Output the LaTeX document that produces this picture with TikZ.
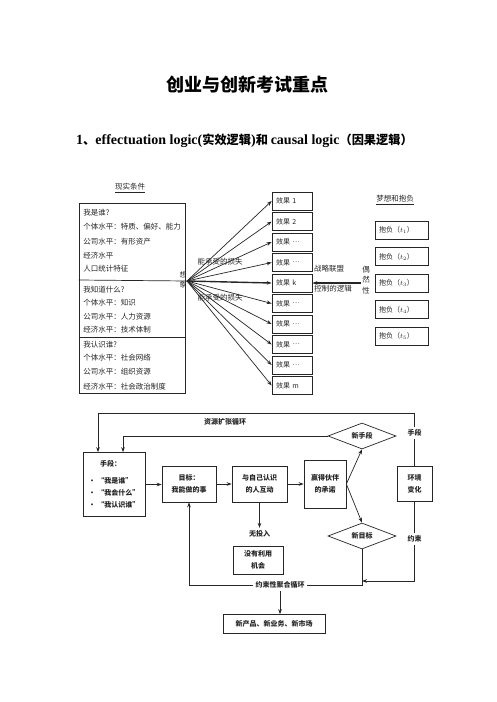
\documentclass[tikz,border=0pt]{standalone}
\usepackage{fontspec}
\setmainfont{Noto Sans CJK SC}
\newfontfamily\latin{Liberation Serif}
\usetikzlibrary{arrows.meta,shapes.geometric}
\newcommand{\cdotsx}{\raisebox{2.2pt}{…}}
\begin{document}
\begin{tikzpicture}[x=1pt,y=-1pt,
  every node/.style={inner sep=0pt, text=black!85},
  line width=0.7pt, draw=black!85,
  t7/.style={font=\fontsize{7.5}{9}\selectfont},
  effbox/.style={draw, text width=32pt, inner xsep=4pt, minimum height=18pt, align=left, font=\fontsize{7}{8}\selectfont},
  aspbox/.style={draw, text width=45pt, inner xsep=4pt, minimum height=18pt, align=left, font=\fontsize{7}{8}\selectfont},
  arr/.style={-{Stealth[length=5pt,width=3.6pt]}},
  fbox/.style={draw, align=center, font=\bfseries\fontsize{7}{12}\selectfont},
  lab/.style={inner sep=2.5pt, font=\bfseries\fontsize{7}{9}\selectfont},
  dia/.style={draw, diamond, aspect=2.6, minimum width=68pt, minimum height=26pt, font=\bfseries\fontsize{7}{9}\selectfont}
]
\fill[white] (0,0) rectangle (496,702);
\useasboundingbox (0,0) rectangle (496,702);

% title
\node[font=\bfseries\fontsize{18}{20}\selectfont, text=black] (title) at (247,85) {创业与创新考试重点};
\node[font=\bfseries\fontsize{12.2}{14}\selectfont, text=black] (sub) at (244.5,141)
  {{\latin\fontsize{14}{16}\selectfont 1}、{\latin\fontsize{14}{16}\selectfont effectuation logic(}实效逻辑{\latin\fontsize{14}{16}\selectfont )}和 {\latin\fontsize{14}{16}\selectfont causal logic}（因果逻辑）};

% ---------- top diagram ----------
\node[t7] (hgiven) at (130,188) {\underline{现实条件}};
\node[draw, minimum width=106pt, minimum height=190pt] (given) at (132,298) {};
\coordinate (f) at (187,281);
\draw (given.west |- 0,280) -- (f);
\draw (given.west |- 0,337) -- (given.east |- 0,337);

\node[t7, anchor=west] (g1) at (83,213) {我是谁?};
\node[t7, anchor=west] (g2) at (83,227) {个体水平：特质、偏好、能力};
\node[t7, anchor=west] (g3) at (83,242) {公司水平：有形资产};
\node[t7, anchor=west] (g4) at (83,256) {经济水平};
\node[t7, anchor=west] (g5) at (83,269) {人口统计特征};
\node[t7, anchor=west] (k1) at (83,290) {我知道什么?};
\node[t7, anchor=west] (k2) at (83,303) {个体水平：知识};
\node[t7, anchor=west] (k3) at (83,317) {公司水平：人力资源};
\node[t7, anchor=west] (k4) at (83,330) {经济水平：技术体制};
\node[t7, anchor=west] (w1) at (83,345) {我认识谁?};
\node[t7, anchor=west] (w2) at (83,358) {个体水平：社会网络};
\node[t7, anchor=west] (w3) at (83,372) {公司水平：组织资源};
\node[t7, anchor=west] (w4) at (83,387) {经济水平：社会政治制度};

\node[align=center, font=\fontsize{7}{10}\selectfont] (imag) at (183,280) {想\\象};

\foreach \i/\lab in {1/1,2/2,3/\cdotsx,4/\cdotsx,5/k,6/\cdotsx,7/\cdotsx,8/\cdotsx,9/\cdotsx,10/m}{
  \node[effbox] (e\i) at (292,180.5+20.5*\i) {效果\ \lab};
}
\foreach \i in {1,2,3,4,6,7,8,9,10}{
  \draw[arr] (f) -- (e\i.west);
}
\draw[arr, line width=1.4pt] (f) -- (e5.west);
\node[t7] (al1) at (220,262) {能承受的损失};
\node[t7] (al2) at (220,298) {能承受的损失};

\node[t7] (sa) at (329,269) {战略联盟};
\node[t7] (lc) at (333,289) {控制的逻辑};
\node[align=center, font=\fontsize{7.5}{10.5}\selectfont] (chance) at (366,280) {偶\\然\\性};
\draw[arr, line width=1.4pt] ([xshift=-1pt]chance.west |- e5.east) -- (e5.east);

\node[t7] (hasp) at (395,200) {\underline{梦想和抱负}};
\foreach \i in {1,...,5}{
  \node[aspbox] (a\i) at (401.5,203.5+26.5*\i) {抱负（$t_{\i}$）};
}

% ---------- bottom diagram ----------
\coordinate (ytop) at (0,413);
\coordinate (yenv) at (0,581);

\node[fbox, minimum width=62pt, minimum height=64pt, align=left] (means) at (114,484.5)
  {\makebox[44pt][c]{手段：}\\[5pt] •\ “我是谁”\\ •\ “我会什么”\\ •\ “我认识谁”};
\node[fbox, minimum width=54pt, minimum height=36pt] (goal) at (189,484) {目标：\\我能做的事};
\node[fbox, minimum width=55pt, minimum height=36pt] (inter) at (259.5,484) {与自己认识\\的人互动};
\node[fbox, minimum width=42pt, minimum height=48pt] (commit) at (325,484) {赢得伙伴\\的承诺};
\node[dia] (newmeans) at (362,436) {新手段};
\node[dia] (newgoal) at (362,536) {新目标};
\node[fbox, minimum width=35pt, minimum height=35pt] (env) at (414.5,483.5) {环境\\变化};
\node[fbox, minimum width=50pt, minimum height=28pt] (noopp) at (258,560) {没有利用\\机会};
\node[fbox, minimum width=102pt, minimum height=19pt] (final) at (274,624) {新产品、新业务、新市场};

\node[lab] (rloop) at (225,422) {资源扩张循环};
\node[lab] (lmeans) at (414.5,433) {手段};
\node[lab] (lcons) at (414.5,539) {约束};
\node[lab] (noin) at (259.5,534) {无投入};
\node[lab] (cloop) at (280,585) {约束性聚合循环};

\draw[arr] (means.east) -- (goal.west |- means.east);
\draw[arr] (goal.east) -- (inter.west);
\draw[arr] (inter.east) -- (commit.west);
\draw[arr] (commit.east) -- (newmeans.south);
\draw[arr] (commit.east) -- (newgoal.north);

\draw (env.north) -- (lmeans.south);
\draw[arr] (lmeans.north) -- (lmeans.north |- ytop) -| ([xshift=-16pt]means.north);
\draw[arr] (newmeans.west) -| ([xshift=9pt]means.north);

\draw (env.south) -- (lcons.north);
\draw[arr] (lcons.south) |- (newgoal.south |- yenv);
\draw (newgoal.south) |- (cloop.east);
\draw[arr] (cloop.west) -| (goal.south);
\draw[arr] (cloop.south) -- (cloop.south |- final.north);
\draw[arr] (inter.south) -- (noin.north);
\end{tikzpicture}
\end{document}
